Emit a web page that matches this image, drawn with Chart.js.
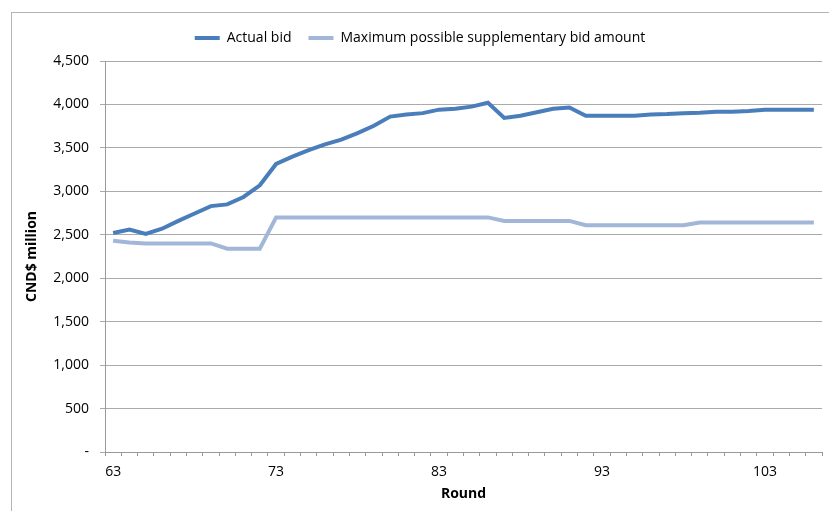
<!DOCTYPE html>
<html>
<head>
<meta charset="utf-8">
<script src="https://cdn.jsdelivr.net/npm/chart.js@4.4.1/dist/chart.umd.min.js"></script>
<style>
    html, body { margin: 0; padding: 0; background: #fff; }
    #wrap { position: relative; width: 829px; height: 511px; overflow: hidden; }
    #frame {
        position: absolute; left: 11px; top: 12px; width: 900px; height: 600px;
        border-left: 1px solid #b4b4b4; border-top: 1px solid #b4b4b4;
    }
    canvas { position: absolute; left: 0; top: 0; }
</style>
</head>
<body>
<div id="wrap">
    <div id="frame"></div>
    <canvas id="chart" width="829" height="511"></canvas>
</div>
<script>
// --- data ---
const rounds = [
    "63", "64", "65", "66", "67", "68", "69", "70", "71", "72",
    "73", "74", "75", "76", "77", "78", "79", "80", "81", "82",
    "83", "84", "85", "86", "87", "88", "89", "90", "91", "92",
    "93", "94", "95", "96", "97", "98", "99", "100", "101", "102",
    "103", "104", "105", "106"
];
const shownRounds = ["63", "73", "83", "93", "103"];

const actualBid = [
    2520, 2560, 2510, 2570, 2660, 2745, 2830, 2850, 2935, 3070,
    3315, 3400, 3475, 3540, 3595, 3670, 3755, 3860, 3885, 3900,
    3940, 3950, 3975, 4020, 3845, 3870, 3910, 3950, 3965, 3870,
    3870, 3870, 3870, 3885, 3890, 3900, 3905, 3915, 3915, 3925,
    3940, 3940, 3940, 3940
];
const maxSupplementary = [
    2430, 2410, 2400, 2400, 2400, 2400, 2400, 2340, 2340, 2340,
    2700, 2700, 2700, 2700, 2700, 2700, 2700, 2700, 2700, 2700,
    2700, 2700, 2700, 2700, 2660, 2660, 2660, 2660, 2660, 2610,
    2610, 2610, 2610, 2610, 2610, 2610, 2640, 2640, 2640, 2640,
    2640, 2640, 2640, 2640
];

const yMin = 0, yMax = 4500, yStep = 500;

Chart.defaults.font.family = "'Open Sans', sans-serif";
Chart.defaults.font.size = 14;
Chart.defaults.color = "#000";

// move the legend a bit up and right, like the original
const legendNudge = {
    id: "legendNudge",
    afterLayout(chart) {
        const lg = chart.legend;
        if (!lg) return;
        lg.top -= 6; lg.bottom -= 6;
        lg.left += 9; lg.right += 9;
    }
};

new Chart(document.getElementById("chart"), {
    type: "line",
    data: {
        labels: rounds,
        datasets: [
            {
                label: "Actual bid",
                data: actualBid,
                borderColor: "#4a7ebb",
                backgroundColor: "#4a7ebb",
                borderWidth: 4,
                pointRadius: 0,
                tension: 0
            },
            {
                label: "Maximum possible supplementary bid amount",
                data: maxSupplementary,
                borderColor: "#a2b7d8",
                backgroundColor: "#a2b7d8",
                borderWidth: 4,
                pointRadius: 0,
                tension: 0
            }
        ]
    },
    options: {
        responsive: false,
        animation: false,
        layout: { padding: { top: 8, right: 7, left: 0, bottom: 0 } },
        plugins: {
            tooltip: { enabled: false },
            legend: {
                position: "top",
                labels: {
                    usePointStyle: true,
                    pointStyle: "line",
                    pointStyleWidth: 25,
                    padding: 17,
                    font: { size: 14 }
                }
            }
        },
        scales: {
            x: {
                offset: true,
                afterFit: (s) => { s.height = 59; },
                border: { color: "#999", width: 1 },
                grid: { offset: true, drawOnChartArea: false, drawTicks: true, tickLength: 4, color: "#999" },
                ticks: {
                    autoSkip: false,
                    maxRotation: 0,
                    padding: 8,
                    callback: function (v, i) {
                        const lbl = this.getLabelForValue(v);
                        return shownRounds.includes(lbl) ? lbl : "";
                    }
                },
                title: { display: true, text: "Round", font: { weight: "bold", size: 14 }, padding: { top: 2, bottom: 9 } }
            },
            y: {
                min: yMin,
                max: yMax,
                // push the plot top down to leave room under the legend
                afterFit: (s) => { s.width = 105; s.paddingTop = 61; },
                border: { color: "#999", width: 1 },
                grid: { color: "#aaa", tickLength: 5 },
                ticks: {
                    stepSize: yStep,
                    padding: 11,
                    callback: (v) => v === 0 ? "-" : v.toLocaleString("en-US")
                },
                title: { display: true, text: "CND$ million", font: { weight: "bold", size: 14 }, padding: { top: 24, bottom: 0 } }
            }
        }
    },
    plugins: [legendNudge]
});
</script>
</body>
</html>
